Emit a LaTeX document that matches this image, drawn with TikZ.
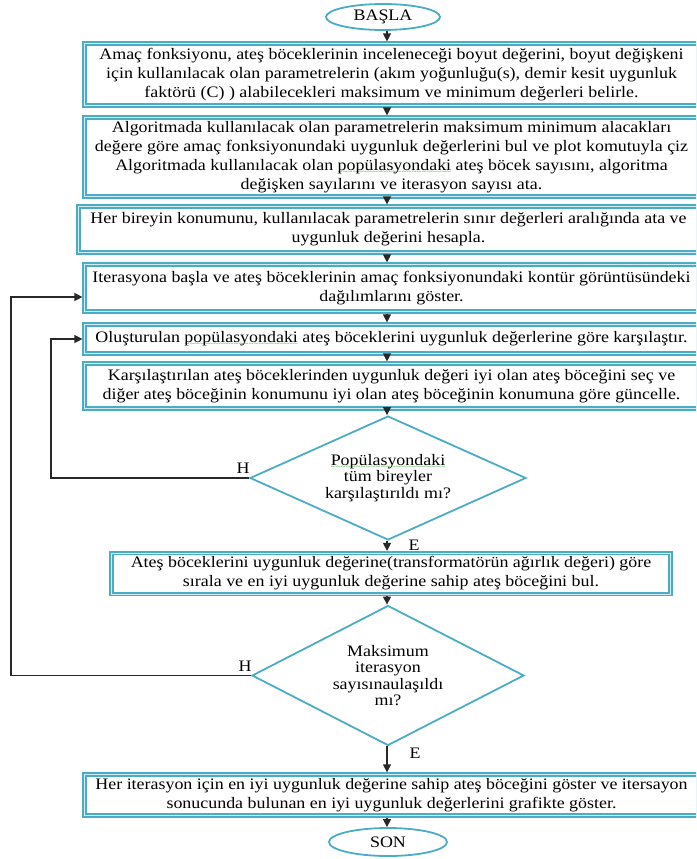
\documentclass[tikz,border=0pt]{standalone}
\usepackage{fontspec}
\setmainfont{Liberation Serif}[FakeStretch=1.12]
\usetikzlibrary{shapes.geometric,arrows.meta,calc}
\definecolor{acc}{RGB}{75,172,198}
\definecolor{sqg}{RGB}{70,175,70}
\definecolor{lnk}{RGB}{40,40,40}
\newcommand\sqw[1]{\setbox0=\hbox{#1}\rlap{\raisebox{-4.5pt}{\color{sqg}\fontsize{8}{8}\selectfont\hbox to \wd0{\xleaders\hbox{\char"7E}\hfill}}}\box0\relax}
\begin{document}
\begin{tikzpicture}[x=1pt,y=-1pt,
  boxst/.style={draw=acc, line width=1.8pt, double=acc!25, double distance=0.6pt,
    rectangle, inner sep=0pt, outer sep=2.1pt, align=center,
    font=\fontsize{16}{19}\selectfont},
  termst/.style={draw=acc, line width=1.8pt, ellipse, inner sep=0pt, outer sep=0.9pt,
    font=\fontsize{16}{19}\selectfont},
  decst/.style={draw=acc, line width=1.8pt, diamond, inner sep=0pt, outer sep=0.9pt},
  dtxt/.style={align=center, font=\fontsize{16}{16.5}\selectfont},
  lab/.style={font=\fontsize{16}{18}\selectfont, inner sep=0pt},
  arr/.style={draw=lnk, line width=1.3pt, -{Triangle[length=8pt,width=8pt]}}]
\useasboundingbox (0,0) rectangle (696,859);
\clip (0,0) rectangle (696,859);
\coordinate (ax) at (387,0);
\coordinate (l1) at (51,0);
\coordinate (l2) at (11,0);

\node[termst, minimum width=114pt, minimum height=26pt] (basla) at (383,17) {BAŞLA};

\node[boxst, minimum width=614pt, minimum height=62pt] (b1) at (391.5,74.5)
 {Amaç fonksiyonu, ateş böceklerinin inceleneceği boyut değerini, boyut değişkeni\\
  için kullanılacak olan parametrelerin (akım yoğunluğu(s), demir kesit uygunluk\\
  faktörü (C) ) alabilecekleri maksimum ve minimum değerleri belirle.};

\node[boxst, minimum width=614pt, minimum height=79pt] (b2) at (391.5,157)
 {Algoritmada kullanılacak olan parametrelerin maksimum minimum alacakları\\
  değere göre amaç fonksiyonundaki uygunluk değerlerini bul ve plot komutuyla çiz\\
  Algoritmada kullanılacak olan \sqw{popülasyondaki} ateş böcek sayısını, algoritma\\
  değişken sayılarını ve iterasyon sayısı ata.};

\node[boxst, minimum width=620pt, minimum height=46pt] (b3) at (388.5,229.5)
 {Her bireyin konumunu, kullanılacak parametrelerin sınır değerleri aralığında ata ve\\
  uygunluk değerini hesapla.};

\node[boxst, minimum width=614pt, minimum height=47pt] (b4) at (391.5,288)
 {Iterasyona başla ve ateş böceklerinin amaç fonksiyonundaki kontür görüntüsündeki\\
  dağılımlarını göster.};

\node[boxst, minimum width=614pt, minimum height=29pt] (b5) at (391.5,339)
 {Oluşturulan \sqw{popülasyondaki} ateş böceklerini uygunluk değerlerine göre karşılaştır.};

\node[boxst, minimum width=614pt, minimum height=45pt] (b6) at (391.5,386)
 {Karşılaştırılan ateş böceklerinden uygunluk değeri iyi olan ateş böceğini seç ve\\
  diğer ateş böceğinin konumunu iyi olan ateş böceğinin konumuna göre güncelle.};

\node[decst, minimum width=276pt, minimum height=124pt] (d1) at (388,478) {};
\node[dtxt] (t1) at (d1) {\sqw{Popülasyondaki}\\tüm bireyler\\karşılaştırıldı mı?};

\node[boxst, minimum width=559pt, minimum height=41pt] (b7) at (391,573.5)
 {Ateş böceklerini uygunluk değerine(transformatörün ağırlık değeri) göre\\
  sırala ve en iyi uygunluk değerine sahip ateş böceğini bul.};

\node[decst, minimum width=272pt, minimum height=140pt] (d2) at (388,675.5) {};
\node[dtxt] (t2) at (d2) {Maksimum\\iterasyon\\sayısınaulaşıldı\\mı?};

\node[boxst, minimum width=614pt, minimum height=41pt] (b8) at (391.5,795)
 {Her iterasyon için en iyi uygunluk değerine sahip ateş böceğini göster ve itersayon\\
  sonucunda bulunan en iyi uygunluk değerlerini grafikte göster.};

\node[termst, minimum width=118pt, minimum height=28pt] (son) at (388,842) {SON};

\draw[arr] (basla.south -| ax) -- (b1.north -| ax);
\draw[arr] (b1.south -| ax) -- (b2.north -| ax);
\draw[arr] (b2.south -| ax) -- (b3.north -| ax);
\draw[arr] (b3.south -| ax) -- (b4.north -| ax);
\draw[arr] (b4.south -| ax) -- (b5.north -| ax);
\draw[arr] (b5.south -| ax) -- (b6.north -| ax);
\draw[arr] (b6.south -| ax) -- (d1.north -| ax);
\draw[arr] (d1.south -| ax) -- (b7.north -| ax);
\draw[arr] (b7.south -| ax) -- (d2.north -| ax);
\draw[arr] (d2.south -| ax) -- (b8.north -| ax);
\draw[arr] (b8.south -| ax) -- (son.north -| ax);

\draw[arr] (d1.west) -- (d1.west -| l1) |- (b5.west);
\draw[arr] (d2.west) -- (d2.west -| l2) |- ([yshift=-9pt]b4.west);

\node[lab] (h1) at (243,468) {H};
\node[lab] (e1) at (414,545) {E};
\node[lab] (h2) at (245,666) {H};
\node[lab] (e2) at (415,753) {E};
\end{tikzpicture}
\end{document}
